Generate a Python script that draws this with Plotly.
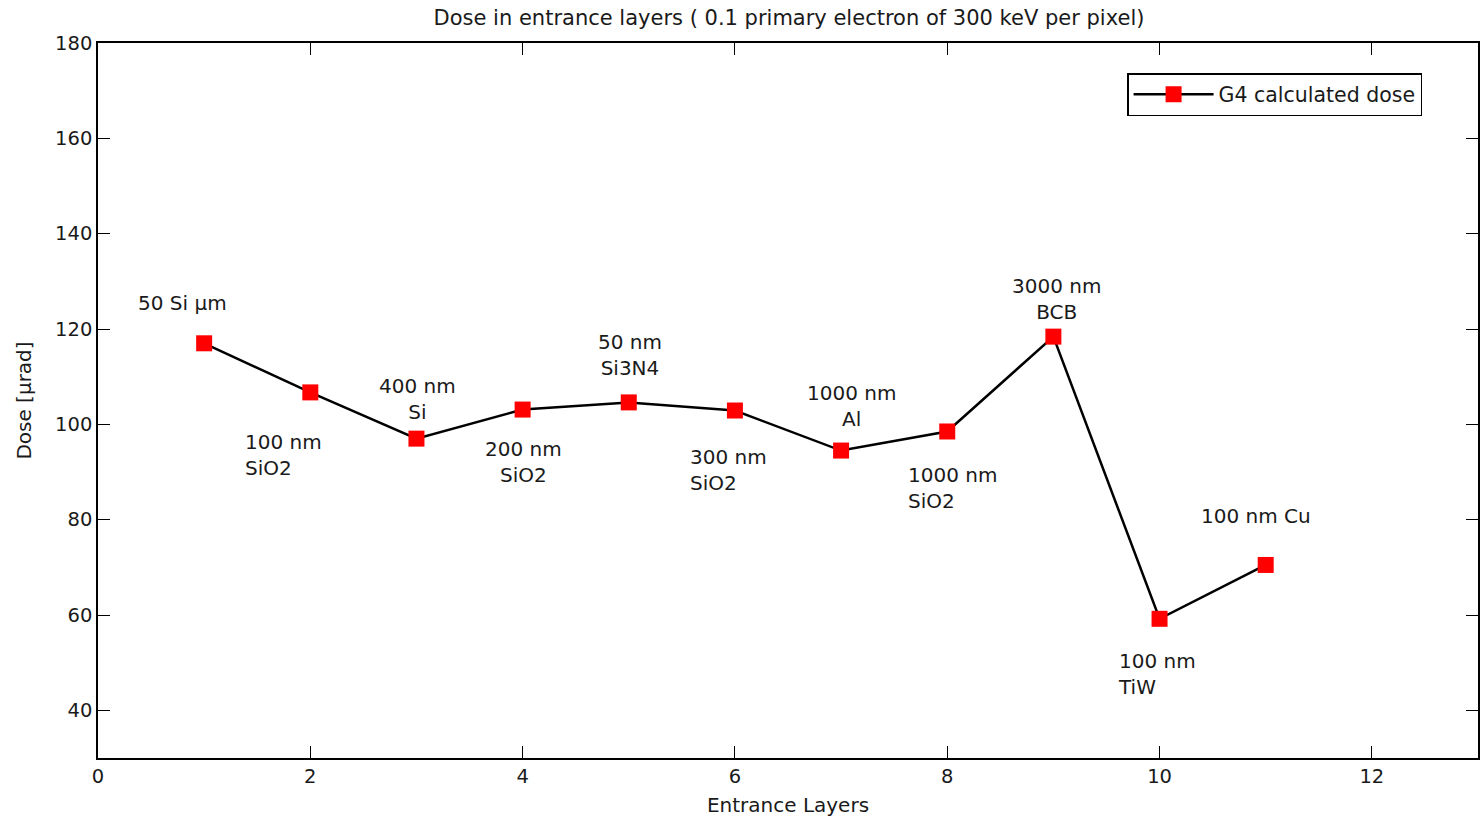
import plotly.graph_objects as go

# Entrance layer index and calculated dose
layers = [1, 2, 3, 4, 5, 6, 7, 8, 9, 10, 11]
dose = [117.0, 106.7, 97.0, 103.1, 104.6, 102.9, 94.5, 98.5, 118.4, 59.2, 70.5]

# Layer labels: text, anchor x, anchor y, horizontal anchor
label_text = ["50 Si µm", "100 nm<br>SiO2", "400 nm<br>Si", "200 nm<br>SiO2",
              "50 nm<br>Si3N4", "300 nm<br>SiO2", "1000 nm<br>Al", "1000 nm<br>SiO2",
              "3000 nm<br>BCB", "100 nm<br>TiW", "100 nm Cu"]
label_x = [0.80, 1.37, 3.01, 4.01, 5.01, 5.56, 7.10, 7.61, 9.03, 9.59, 10.91]
label_y = [125.5, 93.6, 105.3, 92.1, 114.5, 90.4, 103.9, 86.7, 126.3, 47.6, 80.8]
label_anchor = ["center", "left", "center", "center", "center", "left",
                "center", "left", "center", "left", "center"]

FONT = "DejaVu Sans"
FS = 19.5
TXT = "#1a1a1a"

fig = go.Figure()
fig.add_trace(go.Scatter(
    x=layers, y=dose, mode="lines+markers", name="G4 calculated dose",
    line=dict(color="black", width=2.5),
    marker=dict(symbol="square", size=16, color="#ff0000", line=dict(width=0)),
))

for t, x, y, a in zip(label_text, label_x, label_y, label_anchor):
    fig.add_annotation(x=x, y=y, text=t, showarrow=False, xanchor=a, yanchor="middle",
                       align=a, font=dict(family=FONT, size=20, color=TXT))

axis_common = dict(showgrid=False, zeroline=False, showline=True, linecolor="black",
                   linewidth=1.5, mirror="ticks", ticks="inside", ticklen=12,
                   tickcolor="black", tickwidth=1.3,
                   tickfont=dict(family=FONT, size=FS, color=TXT))

fig.update_layout(
    width=1480, height=820,
    margin=dict(l=98, r=0, t=43, b=62),
    paper_bgcolor="white", plot_bgcolor="white",
    title=dict(text="Dose in entrance layers ( 0.1 primary electron of 300 keV per pixel)",
               x=(98 + 1480) / 2 / 1480, xanchor="center",
               y=1 - 18 / 820, yanchor="middle", yref="container",
               font=dict(family=FONT, size=21, color=TXT)),
    xaxis=dict(range=[0, 13], tickmode="array", tickvals=[0, 2, 4, 6, 8, 10, 12],
               title=dict(text="Entrance Layers", standoff=11,
                          font=dict(family=FONT, size=20, color=TXT)),
               **axis_common),
    yaxis=dict(range=[30, 180], tickmode="array", tickvals=[40, 60, 80, 100, 120, 140, 160, 180],
               title=dict(text="Dose [µrad]", standoff=18,
                          font=dict(family=FONT, size=20, color=TXT)),
               **axis_common),
    showlegend=True,
    legend=dict(x=(1424 - 98) / 1382, y=1 - (73 - 43) / 715, xanchor="right", yanchor="top",
                bgcolor="white", bordercolor="black", borderwidth=1.5, itemwidth=80,
                tracegroupgap=0,
                font=dict(family=FONT, size=20.5, color=TXT)),
)

fig.write_html("out.html")
